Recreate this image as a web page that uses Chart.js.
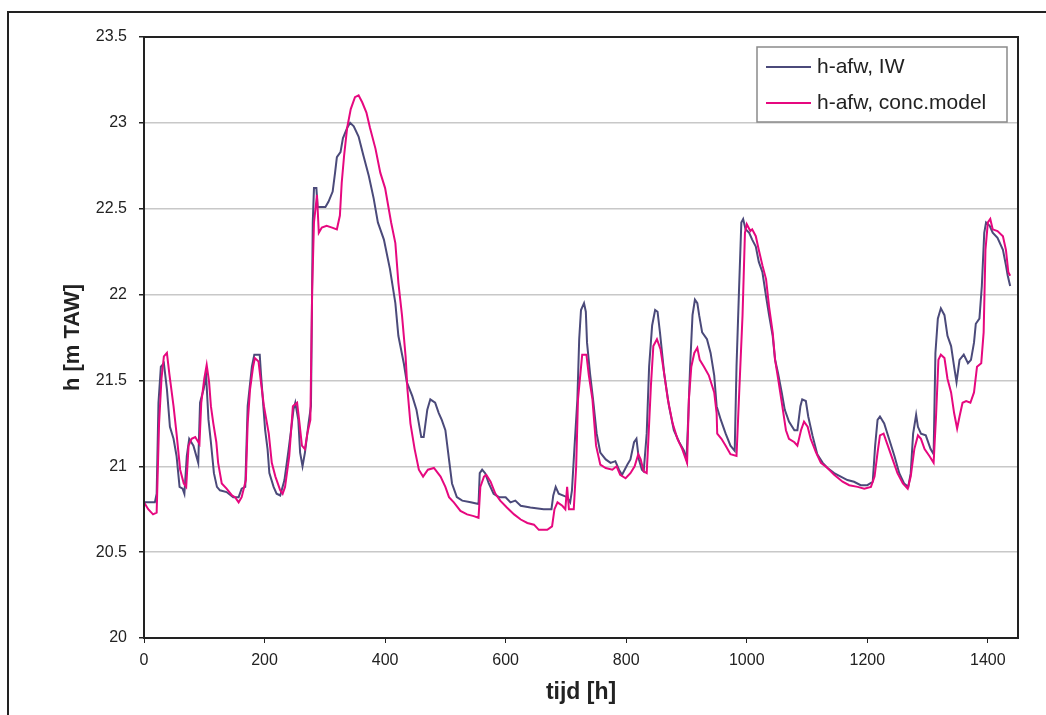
<!DOCTYPE html>
<html>
<head>
<meta charset="utf-8">
<title>h-afw</title>
<script src="https://cdn.jsdelivr.net/npm/chart.js@4.4.0/dist/chart.umd.min.js"></script>
<style>
  html, body { margin: 0; padding: 0; background: #fff; }
  canvas { display: block; }
</style>
</head>
<body>
<canvas id="chart" width="1046" height="715"></canvas>
<script>
// ---------- DATA ----------
const hoursIW = [0, 18, 21, 24, 28, 33, 38, 43, 49, 54, 59, 64, 67, 71, 75, 82, 90, 93, 99, 103, 107, 111, 116, 121, 126, 137, 148, 157, 162, 168, 172, 175, 179, 183, 192, 194, 198, 201, 205, 208, 215, 220, 226, 233, 240, 244, 248, 251, 256, 259, 263, 267, 273, 277, 280, 282, 286, 288, 301, 306, 313, 317, 320, 326, 330, 337, 342, 348, 356, 364, 373, 381, 388, 398, 408, 417, 422, 431, 436, 445, 452, 460, 464, 470, 475, 483, 489, 494, 500, 506, 511, 519, 528, 542, 555, 557, 561, 566, 572, 580, 589, 600, 608, 616, 625, 641, 663, 676, 679, 683, 688, 702, 707, 710, 714, 719, 722, 725, 730, 733, 735, 740, 745, 751, 757, 766, 774, 782, 788, 793, 802, 807, 813, 817, 821, 826, 829, 834, 838, 843, 848, 852, 856, 863, 871, 879, 888, 896, 900, 903, 906, 910, 914, 918, 921, 926, 934, 940, 946, 950, 957, 965, 973, 980, 983, 987, 991, 994, 998, 1004, 1009, 1015, 1020, 1026, 1032, 1037, 1043, 1047, 1052, 1058, 1063, 1070, 1079, 1084, 1089, 1092, 1098, 1102, 1109, 1117, 1126, 1134, 1145, 1156, 1167, 1178, 1189, 1200, 1209, 1213, 1217, 1221, 1228, 1236, 1245, 1253, 1261, 1268, 1272, 1276, 1281, 1284, 1289, 1297, 1305, 1310, 1313, 1317, 1322, 1328, 1333, 1339, 1344, 1348, 1353, 1360, 1367, 1372, 1377, 1380, 1386, 1390, 1394, 1397, 1403, 1408, 1416, 1425, 1430, 1433, 1437];
const levelIW = [20.79, 20.79, 20.84, 21.37, 21.58, 21.60, 21.45, 21.23, 21.16, 21.06, 20.88, 20.87, 20.84, 21.06, 21.16, 21.12, 21.02, 21.37, 21.45, 21.53, 21.27, 21.14, 20.96, 20.88, 20.86, 20.85, 20.82, 20.82, 20.87, 20.88, 21.35, 21.45, 21.58, 21.65, 21.65, 21.54, 21.35, 21.21, 21.10, 20.96, 20.88, 20.84, 20.83, 20.92, 21.10, 21.21, 21.33, 21.37, 21.27, 21.08, 21.00, 21.08, 21.25, 21.35, 22.42, 22.62, 22.62, 22.51, 22.51, 22.54, 22.60, 22.71, 22.80, 22.83, 22.91, 22.97, 23.00, 22.98, 22.92, 22.81, 22.69, 22.56, 22.42, 22.32, 22.15, 21.95, 21.76, 21.60, 21.49, 21.41, 21.33, 21.17, 21.17, 21.33, 21.39, 21.37, 21.31, 21.27, 21.21, 21.04, 20.90, 20.82, 20.80, 20.79, 20.78, 20.96, 20.98, 20.96, 20.90, 20.84, 20.82, 20.82, 20.79, 20.80, 20.77, 20.76, 20.75, 20.75, 20.83, 20.88, 20.84, 20.82, 20.79, 20.86, 21.10, 21.39, 21.74, 21.91, 21.95, 21.90, 21.72, 21.54, 21.39, 21.19, 21.08, 21.04, 21.02, 21.03, 20.98, 20.95, 21.01, 21.04, 21.14, 21.16, 21.04, 20.98, 20.97, 21.19, 21.58, 21.82, 21.91, 21.90, 21.78, 21.54, 21.35, 21.21, 21.14, 21.09, 21.04, 21.29, 21.58, 21.88, 21.97, 21.95, 21.88, 21.78, 21.74, 21.66, 21.53, 21.35, 21.27, 21.19, 21.12, 21.09, 21.58, 22.01, 22.42, 22.44, 22.38, 22.36, 22.32, 22.28, 22.19, 22.13, 21.99, 21.88, 21.76, 21.62, 21.54, 21.43, 21.33, 21.26, 21.21, 21.21, 21.35, 21.39, 21.38, 21.29, 21.18, 21.07, 21.02, 20.99, 20.96, 20.94, 20.92, 20.91, 20.89, 20.89, 20.91, 21.12, 21.27, 21.29, 21.25, 21.16, 21.06, 20.96, 20.90, 20.88, 20.96, 21.19, 21.30, 21.23, 21.19, 21.18, 21.10, 21.07, 21.66, 21.86, 21.92, 21.88, 21.76, 21.70, 21.58, 21.49, 21.62, 21.65, 21.60, 21.62, 21.72, 21.83, 21.86, 22.05, 22.36, 22.42, 22.40, 22.36, 22.33, 22.26, 22.17, 22.11, 22.05];

const hoursConc = [0, 7, 15, 21, 25, 29, 33, 38, 42, 49, 54, 60, 66, 70, 74, 79, 85, 92, 95, 100, 104, 108, 111, 115, 120, 123, 129, 137, 146, 151, 157, 162, 169, 172, 176, 181, 184, 190, 194, 199, 207, 212, 218, 226, 230, 234, 241, 247, 254, 258, 262, 267, 271, 276, 279, 282, 287, 290, 295, 303, 312, 320, 325, 328, 332, 337, 343, 350, 356, 362, 369, 375, 384, 392, 400, 410, 417, 422, 428, 434, 437, 442, 449, 456, 463, 471, 481, 492, 500, 506, 514, 525, 536, 547, 555, 558, 564, 568, 575, 583, 591, 602, 614, 625, 636, 647, 655, 669, 677, 681, 686, 694, 699, 702, 705, 713, 717, 720, 724, 727, 734, 738, 744, 750, 757, 766, 777, 784, 790, 799, 807, 814, 820, 824, 829, 834, 836, 841, 845, 851, 857, 863, 869, 877, 885, 893, 899, 901, 904, 908, 913, 918, 922, 929, 937, 946, 950, 951, 958, 965, 973, 983, 987, 993, 997, 1000, 1006, 1009, 1015, 1020, 1026, 1032, 1037, 1043, 1047, 1052, 1059, 1065, 1070, 1079, 1084, 1090, 1095, 1101, 1106, 1115, 1123, 1134, 1145, 1159, 1170, 1184, 1195, 1206, 1212, 1217, 1221, 1227, 1234, 1242, 1250, 1259, 1267, 1272, 1278, 1284, 1289, 1295, 1303, 1310, 1314, 1318, 1322, 1328, 1333, 1339, 1344, 1349, 1353, 1358, 1364, 1371, 1377, 1382, 1389, 1393, 1396, 1400, 1404, 1408, 1416, 1425, 1430, 1434, 1437];
const levelConc = [20.79, 20.75, 20.72, 20.73, 21.25, 21.51, 21.64, 21.66, 21.54, 21.35, 21.19, 20.98, 20.90, 20.88, 21.12, 21.16, 21.17, 21.13, 21.37, 21.51, 21.59, 21.49, 21.35, 21.25, 21.14, 21.02, 20.90, 20.87, 20.83, 20.82, 20.79, 20.82, 20.92, 21.25, 21.45, 21.58, 21.63, 21.61, 21.49, 21.35, 21.19, 21.02, 20.94, 20.86, 20.84, 20.88, 21.06, 21.35, 21.37, 21.25, 21.12, 21.10, 21.19, 21.27, 22.03, 22.42, 22.58, 22.36, 22.39, 22.40, 22.39, 22.38, 22.46, 22.65, 22.81, 22.97, 23.08, 23.15, 23.16, 23.12, 23.06, 22.97, 22.85, 22.71, 22.62, 22.42, 22.30, 22.07, 21.88, 21.64, 21.45, 21.25, 21.10, 20.98, 20.94, 20.98, 20.99, 20.94, 20.88, 20.82, 20.79, 20.74, 20.72, 20.71, 20.70, 20.88, 20.94, 20.95, 20.91, 20.84, 20.80, 20.76, 20.72, 20.69, 20.67, 20.66, 20.63, 20.63, 20.65, 20.75, 20.79, 20.77, 20.75, 20.88, 20.75, 20.75, 21.00, 21.39, 21.54, 21.65, 21.65, 21.53, 21.39, 21.12, 21.01, 20.99, 20.98, 21.00, 20.95, 20.93, 20.96, 21.00, 21.07, 21.04, 20.97, 20.96, 21.10, 21.47, 21.70, 21.74, 21.68, 21.54, 21.39, 21.25, 21.16, 21.10, 21.04, 21.02, 21.39, 21.58, 21.66, 21.69, 21.62, 21.58, 21.53, 21.43, 21.31, 21.19, 21.16, 21.12, 21.07, 21.06, 21.39, 21.88, 22.36, 22.41, 22.37, 22.38, 22.34, 22.26, 22.17, 22.09, 21.93, 21.78, 21.62, 21.51, 21.35, 21.21, 21.16, 21.14, 21.12, 21.21, 21.26, 21.23, 21.16, 21.08, 21.02, 20.99, 20.95, 20.91, 20.89, 20.88, 20.87, 20.88, 20.94, 21.08, 21.18, 21.19, 21.12, 21.04, 20.96, 20.90, 20.87, 20.94, 21.10, 21.18, 21.16, 21.10, 21.06, 21.02, 21.29, 21.62, 21.65, 21.63, 21.51, 21.43, 21.31, 21.22, 21.29, 21.37, 21.38, 21.37, 21.43, 21.58, 21.60, 21.78, 22.26, 22.42, 22.44, 22.38, 22.37, 22.34, 22.26, 22.13, 22.11];

const xTicks = [0, 200, 400, 600, 800, 1000, 1200, 1400];
const yTicks = [20, 20.5, 21, 21.5, 22, 22.5, 23, 23.5];

const FONT = "'Liberation Sans', Arial, Helvetica, sans-serif";
const INK = "#222222";

function toPoints(xs, ys) {
  return xs.map((x, i) => ({ x: x, y: ys[i] }));
}

// plain labels: "23", "20.5", "1000" (no grouping, no forced decimals)
function plainLabel(value) {
  return String(Math.round(value * 10) / 10);
}

// ---------- FRAMES (outer box + plot box) ----------
const framePlugin = {
  id: "frames",
  afterDraw(chart) {
    const { ctx, chartArea: a } = chart;
    ctx.save();
    ctx.strokeStyle = INK;
    ctx.lineWidth = 2;
    ctx.strokeRect(a.left, a.top, a.right - a.left, a.bottom - a.top);
    // outer figure frame, cut off at right and bottom
    ctx.beginPath();
    ctx.moveTo(8, 720);
    ctx.lineTo(8, 12);
    ctx.lineTo(1050, 12);
    ctx.stroke();
    ctx.restore();
  },
};

// ---------- LEGEND (boxed, top right inside plot) ----------
const legendPlugin = {
  id: "boxLegend",
  afterDraw(chart) {
    const { ctx } = chart;
    const box = { x: 757, y: 47, w: 250, h: 75 };
    ctx.save();
    ctx.fillStyle = "#ffffff";
    ctx.fillRect(box.x, box.y, box.w, box.h);
    ctx.strokeStyle = "#8a8a8a";
    ctx.lineWidth = 1.5;
    ctx.strokeRect(box.x, box.y, box.w, box.h);
    ctx.font = "21px " + FONT;
    ctx.textBaseline = "middle";
    chart.data.datasets.forEach((ds, i) => {
      const y = box.y + 20 + i * 36;
      ctx.strokeStyle = ds.borderColor;
      ctx.lineWidth = 2;
      ctx.beginPath();
      ctx.moveTo(box.x + 9, y);
      ctx.lineTo(box.x + 54, y);
      ctx.stroke();
      ctx.fillStyle = INK;
      ctx.fillText(ds.label, box.x + 60, y);
    });
    ctx.restore();
  },
};

// ---------- CHART ----------
new Chart(document.getElementById("chart"), {
  type: "line",
  data: {
    datasets: [
      {
        label: "h-afw, IW",
        data: toPoints(hoursIW, levelIW),
        borderColor: "#4b4a7a",
        borderWidth: 2,
        pointRadius: 0,
        tension: 0,
        order: 1,
      },
      {
        label: "h-afw, conc.model",
        data: toPoints(hoursConc, levelConc),
        borderColor: "#e6087f",
        borderWidth: 2,
        pointRadius: 0,
        tension: 0,
        order: 0,
      },
    ],
  },
  options: {
    responsive: false,
    animation: false,
    layout: { padding: { top: 37, right: 28, left: 0, bottom: 0 } },
    plugins: { legend: { display: false }, tooltip: { enabled: false } },
    scales: {
      x: {
        type: "linear",
        min: 0,
        max: 1450,
        afterBuildTicks: (scale) => { scale.ticks = xTicks.map((v) => ({ value: v })); },
        afterFit: (scale) => { scale.height = 77; },
        ticks: { color: INK, font: { family: FONT, size: 16 }, padding: 8, maxRotation: 0, callback: plainLabel },
        grid: { drawOnChartArea: false, tickLength: 5, tickColor: INK },
        border: { color: INK, width: 2 },
        title: {
          display: true,
          text: "tijd [h]",
          color: INK,
          font: { family: FONT, size: 23, weight: "bold" },
          padding: { top: 0, bottom: 9 },
        },
      },
      y: {
        min: 20,
        max: 23.5,
        afterBuildTicks: (scale) => { scale.ticks = yTicks.map((v) => ({ value: v })); },
        afterFit: (scale) => { scale.width = 144; },
        ticks: { color: INK, font: { family: FONT, size: 16 }, padding: 12, callback: plainLabel },
        grid: { color: "#c8c8c8", lineWidth: 1.5, tickLength: 5, tickColor: INK },
        border: { color: INK, width: 2 },
        title: {
          display: true,
          text: "h [m TAW]",
          color: INK,
          font: { family: FONT, size: 22, weight: "bold" },
          padding: { top: 60, bottom: 0 },
        },
      },
    },
  },
  plugins: [framePlugin, legendPlugin],
});
</script>
</body>
</html>
